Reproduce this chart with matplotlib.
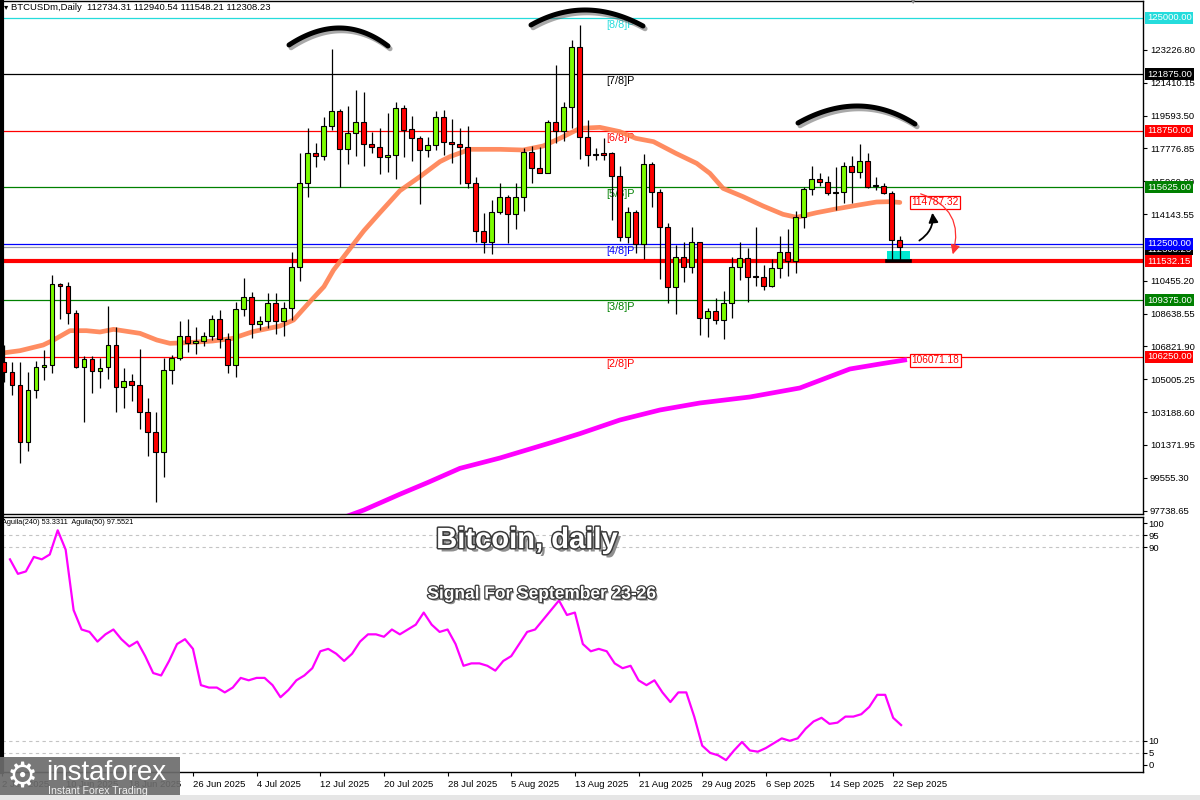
import matplotlib
matplotlib.use('Agg')
import matplotlib.pyplot as plt
import matplotlib.patheffects as pe
from matplotlib.patches import FancyArrowPatch, Rectangle
import numpy as np
import pandas as pd

plt.rcParams['font.family'] = ['Liberation Sans', 'DejaVu Sans']

W, H = 1200, 800

# ---- daily candles BTCUSDm, 3 Jun 2025 .. 23 Sep 2025 ----
start_date = '2025-06-03'
opens = [105943, 105391, 104690, 101519, 104414, 105667, 105796, 110258, 110184, 108654,
         105667, 106109, 105483, 105667, 106902, 104561, 104893, 104672, 103179, 102072,
         100966, 105501, 106165, 107400, 106994, 107105, 107400, 108322, 107234, 105796,
         108875, 109575, 108064, 108248, 109206, 108248, 108949, 111235, 115881, 117503,
         117374, 119034, 119845, 117725, 118610, 119218, 118001, 117835, 117282, 117411,
         119992, 118831, 118333, 117688, 117946, 119495, 118112, 118019, 117872, 115844,
         113226, 112581, 114277, 115106, 114130, 115106, 117558, 116674, 116434, 119255,
         118738, 120084, 123366, 118388, 117448, 117503, 117503, 116268, 112857, 114277,
         112488, 116895, 115383, 113447, 110128, 111788, 111234, 112581, 108377, 108801,
         108285, 109207, 111234, 111733, 110718, 110645, 110184, 111142, 112064, 111548,
         113964, 115512, 116102, 115936, 115291, 115383, 116821, 116489, 117098, 115733,
         115715, 115291, 112734.31]
highs = [106902, 105943, 105943, 105428, 106035, 106625, 110774, 110350, 110368, 108838,
         106294, 106294, 106165, 109059, 107879, 105612, 105280, 106681, 103953, 103179,
         106201, 106349, 108230, 108322, 107879, 107640, 108543, 108838, 107547, 109299,
         110590, 109815, 108506, 109760, 109760, 109280, 112028, 117540, 118886, 118057,
         119531, 123256, 119937, 120121, 121007, 120877, 118702, 118886, 119716, 120343,
         120177, 119568, 118481, 118425, 119845, 119900, 119402, 118886, 119015, 116176,
         114185, 114922, 115844, 115199, 115844, 117780, 117909, 117872, 119347, 122389,
         120361, 123772, 124601, 119347, 117780, 118333, 117595, 116821, 114517, 114369,
         117448, 117042, 115512, 113631, 112433, 112618, 113447, 112618, 108930, 109483,
         109907, 111788, 112618, 112249, 113410, 111327, 111640, 112931, 113300, 114332,
         115660, 116821, 116397, 116250, 116766, 117042, 117356, 118019, 117540, 116176,
         115844, 115438, 112940.54]
lows = [104838, 104137, 100357, 101058, 103953, 104967, 105335, 108322, 108045, 105612,
        102625, 104266, 104506, 105004, 103216, 103437, 103824, 102257, 100781, 98200,
        99583, 104727, 106072, 106533, 106386, 106865, 107179, 106718, 105335, 105151,
        108506, 107270, 107732, 107824, 107511, 107400, 108285, 110460, 115106, 116766,
        117135, 118794, 115623, 116913, 117356, 116803, 117503, 116360, 116489, 116065,
        117319, 117098, 114701, 117319, 117688, 117411, 116950, 115789, 115567, 112581,
        111972, 111917, 114130, 112562, 113300, 114332, 115844, 116397, 116397, 118056,
        118204, 118886, 117171, 116821, 117134, 117134, 113816, 112673, 112525, 111972,
        111640, 114517, 110534, 109243, 108617, 110405, 110866, 107455, 107326, 108064,
        107216, 108377, 110497, 109299, 110184, 109944, 110128, 110589, 110718, 110903,
        113392, 115199, 115696, 115199, 114369, 114738, 114775, 116121, 115567, 115475,
        115254, 111603, 111548.21]
closes = [105391, 104690, 101519, 104395, 105667, 105796, 110258, 110184, 108654, 105667,
          106109, 105483, 105649, 106902, 104561, 104893, 104672, 103179, 102072, 100966,
          105501, 106165, 107400, 106994, 107105, 107400, 108322, 107234, 105796, 108875,
          109575, 108064, 108248, 109206, 108248, 108949, 111235, 115881, 117503, 117374,
          119034, 119845, 117725, 118610, 119218, 118001, 117835, 117282, 117411, 119992,
          118794, 118333, 117688, 117946, 119495, 118112, 118001, 117872, 115844, 113226,
          112581, 114277, 115106, 114130, 115106, 117558, 116674, 116434, 119255, 118738,
          120084, 123366, 118388, 117411, 117392, 117429, 116268, 112857, 114277, 112488,
          116895, 115383, 113447, 110128, 111788, 111234, 112581, 108377, 108801, 108285,
          109207, 111234, 111733, 110681, 110645, 110184, 111142, 112064, 111548, 113964,
          115512, 116102, 115936, 115291, 115383, 116821, 116489, 117098, 115660, 115678,
          115291, 112710, 112308.23]

# moving averages (candle index, price)
ma_fast_k = [-0.5, 2, 4.9, 6.2, 8.25, 10.3, 12, 13.7, 17, 19.1, 20.75, 22.8, 26.1, 28.6, 31.1,
             34.5, 36.2, 38.25, 40, 41.2, 42.8, 45, 47, 49.5, 52, 54.5, 55.75, 58.25, 62, 64.9,
             67.4, 69.5, 72, 74.5, 77, 79, 81.2, 84, 86.6, 88.25, 89.9, 92.4, 94.9, 97.4, 99.1,
             101.6, 104, 106.6, 109.1, 110.75, 112]
ma_fast_v = [106441, 106588, 106902, 107179, 107695, 107695, 107622, 107769, 107547, 107179,
             106994, 107031, 107123, 107270, 107640, 107953, 108285, 109299, 110130, 111050,
             111972, 113226, 114222, 115439, 116213, 117043, 117319, 117725, 117725, 117688,
             117909, 118333, 118886, 118941, 118702, 118333, 118149, 117503, 116950, 116397,
             115567, 115106, 114590, 114130, 113964, 114222, 114425, 114628, 114812, 114830,
             114787.32]
ma_slow_k = [43, 45, 49.5, 53, 57, 62, 68.25, 72, 77, 82, 87, 93.25, 99.5, 105.75, 109.5, 112.6]
ma_slow_v = [97450, 97776, 98650, 99300, 100080, 100652, 101482, 102000, 102754, 103307,
             103695, 104027, 104525, 105575, 105852, 106071.18]

# Aguila oscillator, one value per candle
aguila = [85, 79, 80, 86, 85, 87, 97, 89, 64, 56, 55, 51, 54, 56, 52, 49, 51, 45, 38, 37,
          43, 50, 52, 48, 33, 32, 32, 30, 32, 36, 35, 36, 36, 33, 28, 31, 35, 37, 40, 47,
          48, 46, 43, 46, 51, 54, 54, 53, 56, 54, 56, 58, 63, 58, 55, 56, 50, 41, 42, 42,
          41, 39, 43, 45, 50, 55, 56, 60, 64, 68, 62, 63, 50, 47, 48, 47, 42, 40, 41, 35,
          33, 35, 30, 26, 30, 30, 20, 8, 5, 4, 2, 6, 9.5, 6, 5.5, 7, 9, 11, 10, 11,
          15, 18, 19.5, 17, 17.5, 20, 20, 21, 24, 29, 29, 19.5, 16.5]

# Murray math levels
mm_levels = [125000, 121875, 118750, 115625, 112500, 109375, 106250]
mm_names = ['[8/8]P', '[7/8]P', '[6/8]P', '[5/8]P', '[4/8]P', '[3/8]P', '[2/8]P']
mm_colors = ['#25dcdc', 'black', 'red', 'green', 'blue', 'green', 'red']
support_level = 111532.15

price_ticks = [123226.80, 121410.15, 119593.50, 117776.85, 115960.20, 114143.55,
               110455.20, 108638.55, 106821.90, 105005.25, 103188.60, 101371.95,
               99555.30, 97738.65]
osc_ticks = [100, 95, 90, 10, 5, 0]
osc_dashed = [95, 90, 10, 5]
date_labels = ['2 Jun 2025', '10 Jun 2025', '18 Jun 2025', '26 Jun 2025', '4 Jul 2025',
               '12 Jul 2025', '20 Jul 2025', '28 Jul 2025', '5 Aug 2025', '13 Aug 2025',
               '21 Aug 2025', '29 Aug 2025', '6 Sep 2025', '14 Sep 2025', '22 Sep 2025']


def px_rect(left, top, right, bottom):
    return [left / W, 1 - bottom / H, (right - left) / W, (bottom - top) / H]


o, hi, lo, c = map(np.array, (opens, highs, lows, closes))
k = np.arange(len(o))
last_close = closes[-1]

fig = plt.figure(figsize=(12, 8), dpi=100)
fig.patch.set_facecolor('white')

ax = fig.add_axes(px_rect(2, 1, 1143, 514))
axi = fig.add_axes(px_rect(2, 517, 1143, 772))

# ---------------- main price panel ----------------
ax.set_xlim(-0.25, 142.4)
ax.set_ylim(97555, 125929)

for lvl, col in zip(mm_levels, mm_colors):
    ax.axhline(lvl, color=col, lw=0.9, zorder=1)
for lvl, name, col in zip(mm_levels, mm_names, mm_colors):
    ax.annotate(name, xy=(75.3, lvl), xytext=(0, -1.5), textcoords='offset points',
                ha='left', va='top', fontsize=7.8, color=col, zorder=2)
ax.axhline(last_close, color='#9a9aaa', lw=0.9, zorder=1)
ax.axhline(support_level, color='#ff0000', lw=3, zorder=1)

ax.plot(ma_fast_k, ma_fast_v, color='#ff8050', lw=3.4, alpha=0.9, zorder=2,
        solid_capstyle='round')
ax.plot(ma_slow_k, ma_slow_v, color='#ff00ff', lw=3.4, zorder=2)

up = c >= o
ax.vlines(k, lo, hi, color='black', lw=0.9, zorder=3)
ax.bar(k, np.maximum(np.abs(c - o), 30), bottom=np.minimum(o, c), width=0.62,
       color=np.where(up, '#7cfc00', '#ff0000'), edgecolor='black', lw=0.8, zorder=4)

# highlighted zone under the last candles
ax.add_patch(Rectangle((110.4, support_level + 30), 2.85, 560, facecolor='#00e8d0',
                       edgecolor='none', zorder=2.5))
ax.plot([110.4, 113.25], [support_level, support_level], color='black', lw=2.6, zorder=5)

ax.yaxis.tick_right()
ax.set_yticks(price_ticks)
ax.set_yticklabels(['%.2f' % t for t in price_ticks])
ax.tick_params(axis='y', direction='out', length=3, width=0.8, pad=2, labelsize=6.8)
ax.set_xticks([])
for s in ax.spines.values():
    s.set_linewidth(1.0)
ax.spines['left'].set_linewidth(3)

ytr = ax.get_yaxis_transform()
axis_boxes = [(125000, '#25dcdc'), (121875, 'black'), (118750, '#ff0000'),
              (115625, '#008000'), (last_close, 'black'), (112500, '#0000ff'),
              (support_level, '#ff0000'), (109375, '#008000'), (106250, '#ff0000')]
for val, col in axis_boxes:
    yoff = -110 if val == last_close else 0
    ax.text(1.0035, val + yoff, '%.2f' % val, transform=ytr, ha='left', va='center',
            fontsize=6.8, color='white', clip_on=False, zorder=6,
            bbox=dict(boxstyle='square,pad=0.18', facecolor=col, edgecolor='none'))

for val in (ma_fast_v[-1], ma_slow_v[-1]):
    ax.text(113.45, val, '%.2f' % val, ha='left', va='center', fontsize=7.3, color='red',
            zorder=6, bbox=dict(boxstyle='square,pad=0.15', facecolor='white',
                                edgecolor='red', lw=0.9))

# ---------------- oscillator panel ----------------
axi.set_xlim(-0.25, 142.4)
axi.set_ylim(-2.9, 102.5)
for lv in osc_dashed:
    axi.axhline(lv, color='#c4c4c4', lw=0.8, ls=(0, (3, 3)), zorder=1)
axi.plot(k, aguila, color='#ff00ff', lw=1.6, zorder=3)
axi.yaxis.tick_right()
axi.set_yticks(osc_ticks)
axi.set_yticklabels([str(t) for t in osc_ticks])
axi.tick_params(axis='y', direction='out', length=3, width=0.8, pad=1, labelsize=6.8)

dates = pd.date_range(start_date, periods=len(o))
date_k = [(pd.to_datetime(d, format='%d %b %Y') - dates[0]).days for d in date_labels]
axi.set_xticks(date_k)
axi.set_xticklabels(date_labels)
axi.tick_params(axis='x', direction='out', length=3, width=0.8, pad=3, labelsize=6.8)
for t in axi.get_xticklabels():
    t.set_ha('left')
for s in axi.spines.values():
    s.set_linewidth(1.0)
axi.spines['left'].set_linewidth(3)

# ---------------- texts & overlays ----------------
fig.text(4 / W, 1 - 8 / H, '\u25be', fontsize=6, va='center', ha='left', color='black')
fig.text(11 / W, 1 - 8 / H,
         'BTCUSDm,Daily  %.2f %.2f %.2f %.2f' % (opens[-1], highs[-1], lows[-1], closes[-1]),
         fontsize=6.8, va='center', ha='left', color='black')
fig.text(2 / W, 1 - 523 / H, 'Aguila(240) 53.3311  Aguila(50) 97.5521', fontsize=5.3,
         va='center', ha='left', color='black')
fig.text(912 / W, 1 - 2 / H, '\u25bc', fontsize=6, va='center', ha='center', color='#888888')

title_fx = [pe.SimplePatchShadow(offset=(2.5, -2.5), shadow_rgbFace='#444444', alpha=0.6),
            pe.Stroke(linewidth=2.2, foreground='#3a3a3a'), pe.Normal()]
fig.text(527 / W, 1 - 540 / H, 'Bitcoin, daily', fontsize=21, fontweight='bold',
         color='white', ha='center', va='center', path_effects=title_fx, zorder=20)
fig.text(542 / W, 1 - 594 / H, 'Signal For September 23-26', fontsize=12.5,
         fontweight='bold', color='white', ha='center', va='center',
         path_effects=[pe.SimplePatchShadow(offset=(1.5, -1.5), shadow_rgbFace='#444444',
                                            alpha=0.6),
                       pe.Stroke(linewidth=1.8, foreground='#3a3a3a'), pe.Normal()],
         zorder=20)

ov = fig.add_axes([0, 0, 1, 1], zorder=10)
ov.set_xlim(0, W)
ov.set_ylim(H, 0)
ov.axis('off')
ov.patch.set_alpha(0)


def hump(x0, y0, xm, ym, x1, y1):
    t = np.linspace(0, 1, 50)
    cx, cy = 2 * xm - (x0 + x1) / 2, 2 * ym - (y0 + y1) / 2
    xs = (1 - t) ** 2 * x0 + 2 * (1 - t) * t * cx + t ** 2 * x1
    ys = (1 - t) ** 2 * y0 + 2 * (1 - t) * t * cy + t ** 2 * y1
    ov.plot(xs, ys, color='black', lw=3.6, solid_capstyle='round',
            path_effects=[pe.SimpleLineShadow(offset=(1.5, -2), shadow_color='#555555',
                                              alpha=0.5), pe.Normal()])


hump(289, 45, 340, 28, 388, 46)
hump(531, 25, 586, 10, 643, 26)
hump(798, 123, 858, 106, 915, 124)

ov.add_patch(FancyArrowPatch((917, 242), (932, 210), connectionstyle='arc3,rad=0.35',
                             arrowstyle='-|>', mutation_scale=14, color='black', lw=1.3))
ov.add_patch(FancyArrowPatch((918, 193), (952, 257), connectionstyle='arc3,rad=-0.5',
                             arrowstyle='-|>', mutation_scale=14, color='#ff3030', lw=0.9))

# logo
ov.add_patch(Rectangle((0, 757), 180, 43, facecolor='#6c6c6c', edgecolor='none', alpha=0.92))
ov.text(22, 777, '\u2699', fontsize=25, color='white', ha='center', va='center',
        family='DejaVu Sans')
ov.text(46, 773, 'instaforex', fontsize=20, color='white', ha='left', va='center')
ov.text(48, 791, 'Instant Forex Trading', fontsize=7.6, color='#f0f0f0', ha='left',
        va='center')
ov.add_patch(Rectangle((0, 795), W, 5, facecolor='#e6e6e6', edgecolor='none'))

fig.savefig('out.png', dpi=100)
